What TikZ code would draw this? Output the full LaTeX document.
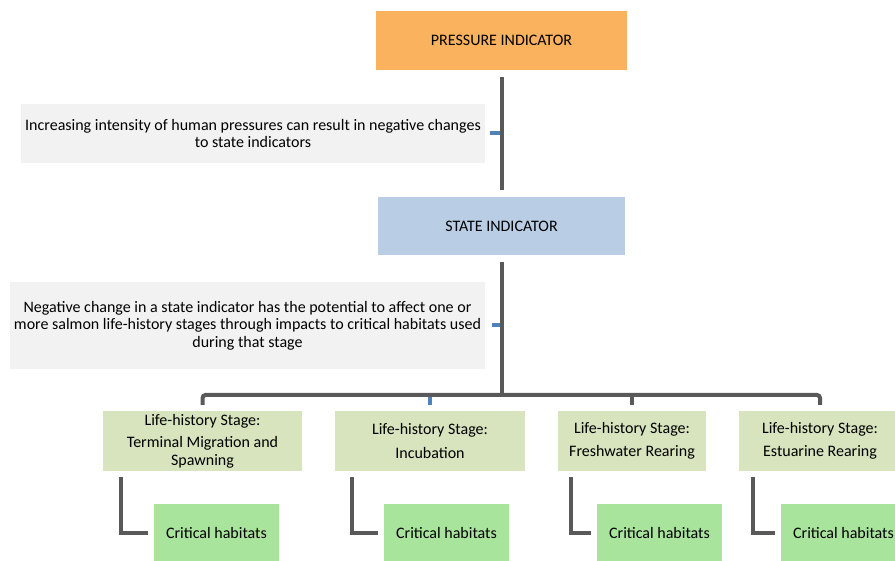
\documentclass[tikz,border=0pt]{standalone}
\usepackage{fontspec}
\setmainfont{Carlito}
\usetikzlibrary{calc}
\definecolor{presfill}{HTML}{FAB25E}
\definecolor{statefill}{HTML}{B9CDE5}
\definecolor{notefill}{HTML}{F2F2F2}
\definecolor{stagefill}{HTML}{D7E4BD}
\definecolor{habfill}{HTML}{A9E49C}
\definecolor{linkgray}{HTML}{595959}
\definecolor{tickblue}{HTML}{4F81BD}
\tikzset{
	box/.style={draw=none, inner sep=0pt, align=center, font=\fontsize{16}{17.5}\selectfont},
	link/.style={line width=4pt, color=linkgray},
	tick/.style={line width=4pt, color=tickblue}
}

\begin{document}
\begin{tikzpicture}[x=1pt, y=-1pt]
		%%%%% START %%%%%
		\useasboundingbox (0,0) rectangle (895,561);
		
		\node[box, fill=presfill, minimum width=251pt, minimum height=59pt] (pres) at (501.5, 40.5) {PRESSURE INDICATOR};
		\node[box, fill=notefill, minimum width=464pt, minimum height=59pt] (note1) at (253, 133.5) {Increasing intensity of human pressures can result in negative changes\\to state indicators};
		\node[box, fill=statefill, minimum width=247pt, minimum height=58pt] (state) at (501.5, 226) {STATE INDICATOR};
		\node[box, fill=notefill, minimum width=475pt, minimum height=87pt] (note2) at (247.5, 325.5) {Negative change in a state indicator has the potential to affect one or\\more salmon life-history stages through impacts to critical habitats used\\during that stage};
		
		\node[box, fill=stagefill, minimum width=199pt, minimum height=60pt] (st1) at (202.5, 441) {Life-history Stage:\\[5pt]Terminal Migration and\\Spawning};
		\node[box, fill=stagefill, minimum width=190pt, minimum height=60pt] (st2) at (430, 441) {Life-history Stage:\\[6pt]Incubation};
		\node[box, fill=stagefill, minimum width=148pt, minimum height=60pt] (st3) at (632, 441) {Life-history Stage:\\[6pt]Freshwater Rearing};
		\node[box, fill=stagefill, minimum width=162pt, minimum height=60pt] (st4) at (820, 441) {Life-history Stage:\\[6pt]Estuarine Rearing};
		
		\foreach \i/\cx in {1/216.5, 2/446.5, 3/659.5, 4/843.5}
			\node[box, fill=habfill, minimum width=125pt, minimum height=58pt] (crit\i) at (\cx, 533) {Critical habitats};
		
		\coordinate (bus) at (501.5, 395);
		
		\draw[tick] ([xshift=5pt]note1.east) -- (note1.east -| pres.south);
		\draw[tick] ([xshift=7pt]note2.east) -- (note2.east -| state.south);
		\draw[tick] ([yshift=6pt]st2.north) -- (st2.north |- bus);
		
		\draw[link] ([yshift=-7pt]pres.south) -- ([yshift=7pt]state.north);
		\draw[link] ([yshift=-7pt]state.south) -- (bus);
		\draw[link, rounded corners=3pt] ([yshift=6pt]st1.north) |- (bus) -| ([yshift=6pt]st4.north);
		\draw[link] ([yshift=6pt]st3.north) -- (st3.north |- bus);
		
		\foreach \i/\dx in {1/18, 2/17, 3/13, 4/14}
			\draw[link] ([xshift=\dx pt, yshift=-6pt]st\i.south west) |- ([xshift=-6pt]crit\i.west);
		
		%%%%% END %%%%%
	\end{tikzpicture}
\end{document}
